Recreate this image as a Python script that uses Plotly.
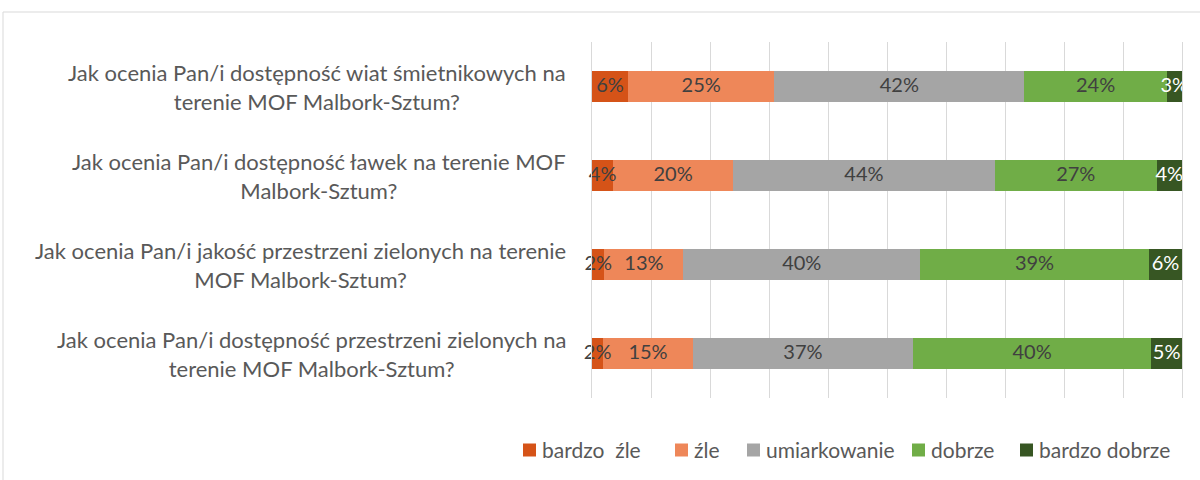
import plotly.graph_objects as go

categories = [
    "Jak ocenia Pan/i dostępność wiat śmietnikowych na<br>terenie MOF Malbork-Sztum?",
    "Jak ocenia Pan/i dostępność ławek na terenie MOF<br>Malbork-Sztum?",
    "Jak ocenia Pan/i jakość przestrzeni zielonych na terenie<br>MOF Malbork-Sztum?",
    "Jak ocenia Pan/i dostępność przestrzeni zielonych na<br>terenie MOF Malbork-Sztum?",
]
series_names = ["bardzo\u00a0 źle", "źle", "umiarkowanie", "dobrze", "bardzo dobrze"]
bardzo_zle = [6.1, 3.6, 2.1, 1.9]
zle = [24.8, 20.3, 13.4, 15.2]
umiarkowanie = [42.4, 44.4, 40.1, 37.3]
dobrze = [24.1, 27.4, 38.8, 40.4]
bardzo_dobrze = [2.6, 4.3, 5.6, 5.2]
series_values = [bardzo_zle, zle, umiarkowanie, dobrze, bardzo_dobrze]
colors = ["#D55318", "#EE8759", "#A5A5A5", "#70AD47", "#375623"]
text_colors = ["#404040", "#404040", "#404040", "#404040", "#FFFFFF"]

FONT = "Lato"
ids = ["q1", "q2", "q3", "q4"]

# layout geometry (pixels)
W, H = 1200, 480
ML, MR, MT, MB = 592, 18, 42, 82
PW, PH = W - ML - MR, H - MT - MB
legend_square_px = [523, 675, 747, 912, 1020]   # left edge of each legend key
legend_y_px = 450
SQ = 13
GAP = 5


def px_x(p):
    return (p - ML) / PW


def px_y(p):
    return (H - MB - p) / PH


fig = go.Figure()
for name, vals, col in zip(series_names, series_values, colors):
    fig.add_trace(go.Bar(
        y=ids, x=vals, name=name, orientation="h",
        marker=dict(color=col, line=dict(width=0)),
        showlegend=False, hoverinfo="skip",
    ))

# data labels drawn on top of all bars (centre of each stacked segment)
totals = [sum(s[i] for s in series_values) for i in range(len(ids))]
cum = [0.0] * len(ids)
for vals, tcol in zip(series_values, text_colors):
    mids = []
    for i, v in enumerate(vals):
        mids.append((cum[i] + v / 2) / totals[i] * 100)
        cum[i] += v
    fig.add_trace(go.Scatter(
        x=mids, y=ids, mode="text",
        text=[f"{round(v)}%" for v in vals], textposition="middle center",
        textfont=dict(family=FONT, size=20, color=tcol),
        cliponaxis=False, showlegend=False, hoverinfo="skip",
    ))

for cid, lab in zip(ids, categories):
    fig.add_annotation(
        x=0, xref="paper", xshift=-24, y=cid, yref="y",
        text=lab, showarrow=False, xanchor="right", yanchor="middle",
        align="center", font=dict(family=FONT, size=22, color="#595959"),
    )

# custom legend (keys + real text)
for name, col, lx in zip(series_names, colors, legend_square_px):
    fig.add_shape(type="rect", xref="paper", yref="paper",
                  x0=px_x(lx), x1=px_x(lx + SQ),
                  y0=px_y(legend_y_px + SQ / 2), y1=px_y(legend_y_px - SQ / 2),
                  fillcolor=col, line=dict(width=0))
    fig.add_annotation(
        x=px_x(lx + SQ + GAP), xref="paper", y=px_y(legend_y_px), yref="paper",
        text=name, showarrow=False, xanchor="left", yanchor="middle",
        borderpad=0, font=dict(family=FONT, size=21, color="#595959"),
    )

# chart border
fig.add_shape(type="rect", xref="paper", yref="paper",
              x0=px_x(3), x1=px_x(W + 20), y0=px_y(H + 20), y1=px_y(12),
              line=dict(color="#D9D9D9", width=1), layer="below")

fig.update_layout(
    width=W, height=H,
    barmode="stack", barnorm="percent", bargap=0.65,
    margin=dict(l=ML, r=MR, t=MT, b=MB),
    paper_bgcolor="white", plot_bgcolor="white",
    xaxis=dict(range=[0, 100], dtick=10, showgrid=True, gridcolor="#D9D9D9",
               gridwidth=1, zeroline=False, showticklabels=False, ticks=""),
    yaxis=dict(categoryorder="array", categoryarray=ids[::-1],
               showticklabels=False, showgrid=False, zeroline=False, ticks="",
               showline=True, mirror=True, linecolor="#D9D9D9", linewidth=1),
    font=dict(family=FONT),
    showlegend=False,
)

fig.write_html("out.html", config={"displayModeBar": False},
               post_script="document.body.style.margin='0px';")
